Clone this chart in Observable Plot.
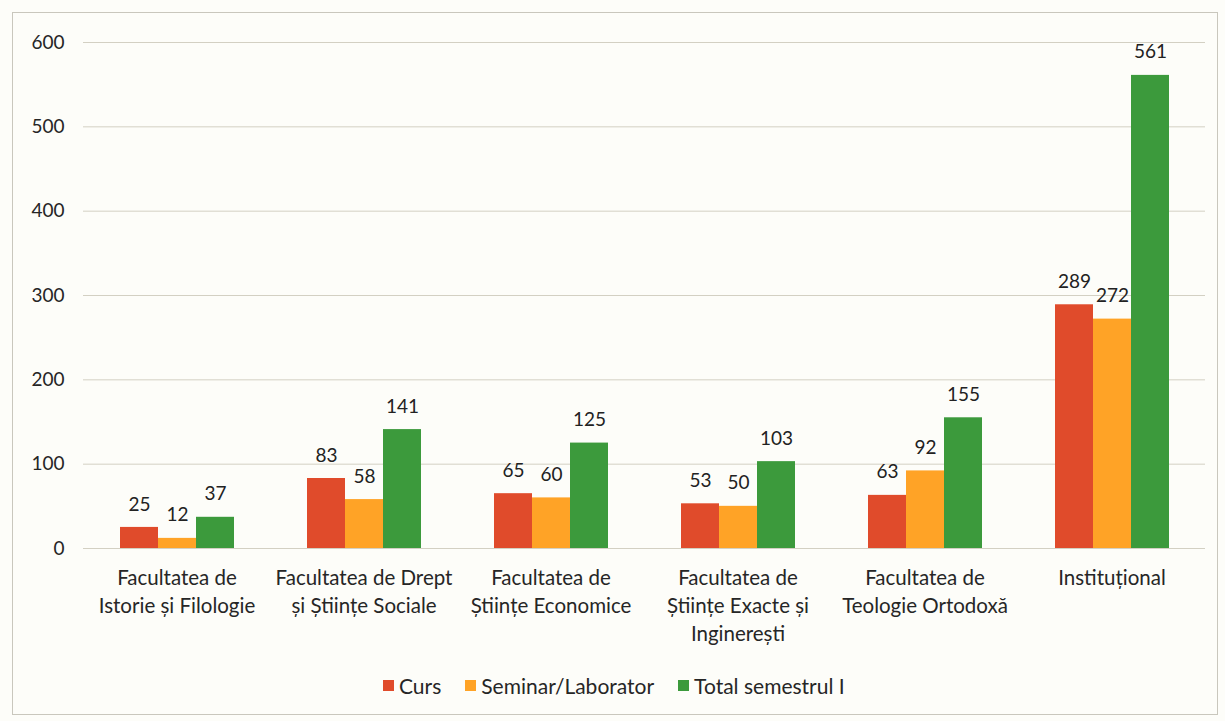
<!DOCTYPE html>
<html><head><meta charset="utf-8">
<script src="https://cdn.jsdelivr.net/npm/d3@7"></script>
<script src="https://cdn.jsdelivr.net/npm/@observablehq/plot@0.6"></script>
<style>
body{margin:0;background:#fdfdf9;font-family:Lato,"Open Sans",sans-serif;}
#frame{position:absolute;left:12px;top:12px;width:1206px;height:703px;border:1px solid #c9c7bd;box-sizing:border-box;}
#chart{position:absolute;left:0;top:0;}
#legend{position:absolute;top:673px;left:383px;display:flex;align-items:center;font-size:21px;color:#262626;}
.item{display:flex;align-items:center;margin-right:24px;}
.sw{width:11px;height:11px;margin-right:5px;}
</style></head>
<body>
<div id="frame"></div>
<div id="chart"></div>
<div id="legend"></div>
<script>
const categories = ["Istorie", "Drept", "Economice", "Exacte", "Teologie", "Institutional"];
const tickLabels = [
  "Facultatea de\nIstorie și Filologie",
  "Facultatea de Drept\nși Științe Sociale",
  "Facultatea de\nȘtiințe Economice",
  "Facultatea de\nȘtiințe Exacte și\nInginerești",
  "Facultatea de\nTeologie Ortodoxă",
  "Instituțional"
];
const series = ["Curs", "Seminar/Laborator", "Total semestrul I"];
const curs = [25, 83, 65, 53, 63, 289];
const seminar = [12, 58, 60, 50, 92, 272];
const total = [37, 141, 125, 103, 155, 561];
const colors = ["#e04b2b", "#ffa326", "#3c9a3c"];
const yTicks = [0, 100, 200, 300, 400, 500, 600];

const values = [curs, seminar, total];
const data = categories.flatMap((c, i) => series.map((s, j) => ({cat: c, s, v: values[j][i]})));

const chart = Plot.plot({
  width: 1225, height: 650,
  marginLeft: 81, marginRight: 18, marginTop: 42, marginBottom: 102,
  style: {fontFamily: "Lato, 'Open Sans', sans-serif", fontSize: "19px", color: "#262626", background: "transparent"},
  fx: {domain: categories, padding: 0, label: null},
  x: {domain: series, paddingInner: 0, paddingOuter: 0.9, axis: null},
  y: {domain: [0, 600], label: null},
  color: {domain: series, range: colors},
  marks: [
    Plot.gridY(yTicks, {stroke: "#d3d0c3", strokeOpacity: 1}),
    Plot.axisY(yTicks, {tickSize: 0, tickPadding: 19, fontSize: 19, label: null, fill: "#262626"}),
    Plot.axisFx({tickFormat: c => tickLabels[categories.indexOf(c)], tickSize: 0, tickPadding: 16, lineHeight: 1.38, fontSize: 20.5, label: null, anchor: "bottom", fill: "#262626"}),
    Plot.barY(data, {fx: "cat", x: "s", y: "v", fill: "s"}),
    Plot.text(data, {fx: "cat", x: "s", y: "v", text: d => String(d.v), dy: -23, fontSize: 19, fill: "#222"})
  ]
});
document.getElementById("chart").appendChild(chart);

const legend = document.getElementById("legend");
series.forEach((s, i) => {
  const it = document.createElement("div");
  it.className = "item";
  it.innerHTML = `<span class="sw" style="background:${colors[i]}"></span><span>${s}</span>`;
  legend.appendChild(it);
});
</script>
</body></html>
